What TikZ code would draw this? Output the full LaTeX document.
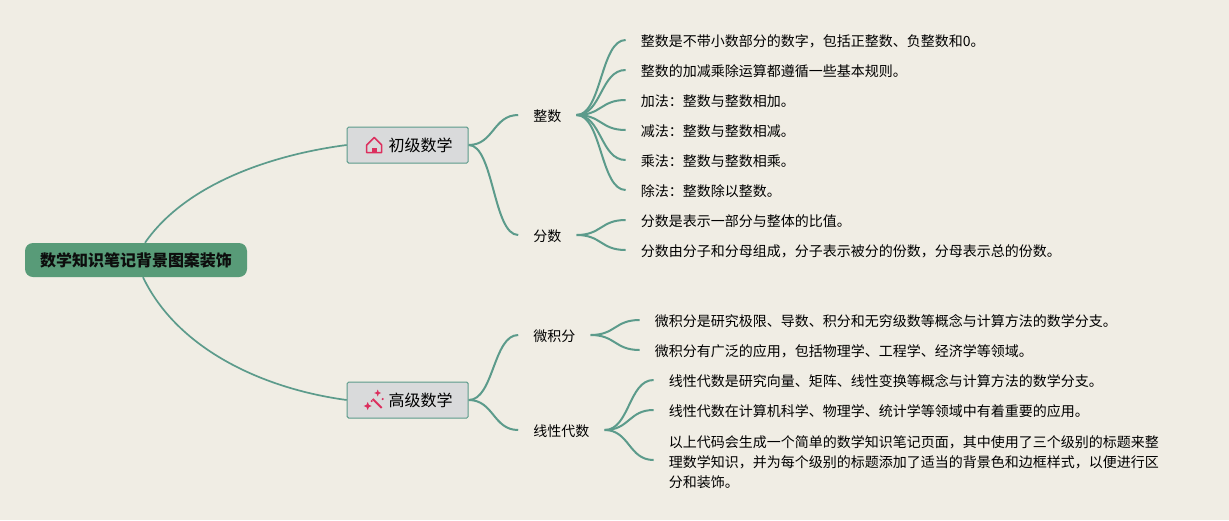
\documentclass[tikz,border=0pt]{standalone}
\usepackage{fontspec}
\setmainfont{Noto Sans CJK SC}
\usetikzlibrary{positioning}

\definecolor{paper}{HTML}{F0EDE4}
\definecolor{stem}{HTML}{5C9B8B}
\definecolor{rootgreen}{HTML}{589B78}
\definecolor{topicgray}{HTML}{D9DADB}
\definecolor{iconred}{HTML}{DC2F5E}

\begin{document}
\begin{tikzpicture}[
		x=1pt, y=1pt,
		% Define styles for the nodes
		rootbox/.style={
			rectangle, rounded corners=8pt, fill=rootgreen, text=black!95,
			minimum width=222pt, minimum height=34pt, inner sep=0pt,
			font=\fontsize{16}{20}\selectfont\bfseries
		},
		topicbox/.style={
			rectangle, rounded corners=1.5pt, draw=stem, fill=topicgray, line width=1pt,
			minimum width=121pt, minimum height=36pt, inner sep=0pt,
			font=\fontsize{16}{20}\selectfont
		},
		branchbox/.style={
			inner xsep=15pt, inner ysep=4pt, text height=13pt, text depth=1pt,
			font=\fontsize{14}{20}\selectfont
		},
		leafbase/.style={
			inner xsep=15pt, inner ysep=2pt, align=left,
			font=\fontsize{14}{20}\selectfont
		},
		leaf/.style={leafbase, text height=13pt, text depth=1pt},
		edge/.style={draw=stem, line width=2pt},
		rootedge/.style={draw=stem, line width=1.7pt},
		iconline/.style={draw=iconred, line width=1.5pt, line join=round},
		iconfill/.style={fill=iconred}
		]

		\useasboundingbox[fill=paper] (0,0) rectangle (1229,-520);

		% Define the central node
		\node[rootbox] (root) at (136,-260) {数学知识笔记背景图案装饰};

		% Define the two topics
		\node[topicbox, right=99.5pt of root, yshift=115pt] (chuji) {\hspace{26pt}初级数学};
		\node[topicbox, right=99.5pt of root, yshift=-140pt] (gaoji) {\hspace{26pt}高级数学};

		% Define the branches
		\node[branchbox, right=49.5pt of chuji, yshift=30pt] (zhengshu) {整数};
		\node[branchbox, right=49.5pt of chuji, yshift=-90pt] (fenshu) {分数};
		\node[branchbox, right=49.5pt of gaoji, yshift=65pt] (weijifen) {微积分};
		\node[branchbox, right=49.5pt of gaoji, yshift=-30pt] (xianxing) {线性代数};

		% Define the leaves
		\node[leaf, right=49pt of zhengshu, yshift=75pt] (zs1) {整数是不带小数部分的数字，包括正整数、负整数和0。};
		\node[leaf, right=49pt of zhengshu, yshift=45pt] (zs2) {整数的加减乘除运算都遵循一些基本规则。};
		\node[leaf, right=49pt of zhengshu, yshift=15pt] (zs3) {加法：整数与整数相加。};
		\node[leaf, right=49pt of zhengshu, yshift=-15pt] (zs4) {减法：整数与整数相减。};
		\node[leaf, right=49pt of zhengshu, yshift=-45pt] (zs5) {乘法：整数与整数相乘。};
		\node[leaf, right=49pt of zhengshu, yshift=-75pt] (zs6) {除法：整数除以整数。};

		\node[leaf, right=49pt of fenshu, yshift=15pt] (fs1) {分数是表示一部分与整体的比值。};
		\node[leaf, right=49pt of fenshu, yshift=-15pt] (fs2) {分数由分子和分母组成，分子表示被分的份数，分母表示总的份数。};

		\node[leaf, right=49pt of weijifen, yshift=15pt] (wj1) {微积分是研究极限、导数、积分和无穷级数等概念与计算方法的数学分支。};
		\node[leaf, right=49pt of weijifen, yshift=-15pt] (wj2) {微积分有广泛的应用，包括物理学、工程学、经济学等领域。};

		\node[leaf, right=49pt of xianxing, yshift=50pt] (xx1) {线性代数是研究向量、矩阵、线性变换等概念与计算方法的数学分支。};
		\node[leaf, right=49pt of xianxing, yshift=20pt] (xx2) {线性代数在计算机科学、物理学、统计学等领域中有着重要的应用。};
		\node[leafbase, right=49pt of xianxing, yshift=-30pt] (xx3) {\rule{0pt}{16pt}以上代码会生成一个简单的数学知识笔记页面，其中使用了三个级别的标题来整\\理数学知识，并为每个级别的标题添加了适当的背景色和边框样式，以便进行区\\分和装饰。};

		% Draw the connections from the root to the topics
		\draw[rootedge] ([xshift=9pt]root.north) .. controls +(40,58) and +(-77,-10) .. (chuji.west);
		\draw[rootedge] ([xshift=7pt]root.south) .. controls +(35,-73) and +(-82,11) .. (gaoji.west);

		% Draw the connections from the topics to the branches
		\draw[edge] (chuji.east) .. controls +(25,0) and +(-25,0) .. (zhengshu.west);
		\draw[edge] (chuji.east) .. controls +(25,0) and +(-25,0) .. (fenshu.west);
		\draw[edge] (gaoji.east) .. controls +(25,0) and +(-25,0) .. (weijifen.west);
		\draw[edge] (gaoji.east) .. controls +(25,0) and +(-25,0) .. (xianxing.west);

		% Draw the connections from the branches to the leaves
		\foreach \leafname in {zs1,zs2,zs3,zs4,zs5,zs6}
			\draw[edge] (zhengshu.east) .. controls +(25,0) and +(-25,0) .. (\leafname.west);
		\foreach \leafname in {fs1,fs2}
			\draw[edge] (fenshu.east) .. controls +(25,0) and +(-25,0) .. (\leafname.west);
		\foreach \leafname in {wj1,wj2}
			\draw[edge] (weijifen.east) .. controls +(25,0) and +(-25,0) .. (\leafname.west);
		\foreach \leafname in {xx1,xx2,xx3}
			\draw[edge] (xianxing.east) .. controls +(25,0) and +(-25,0) .. (\leafname.west);

		% House icon
		\begin{scope}[shift={(chuji.west)}]
			\draw[iconline] (20,0) -- (27.5,7.5) -- (35,0) -- (35,-7.5) -- (20,-7.5) -- cycle;
			\fill[iconfill] (25.2,-7.5) rectangle (29.8,-2.5);
		\end{scope}

		% Wand icon
		\begin{scope}[shift={(gaoji.west)}]
			\draw[iconline, line width=2pt] (26,1) -- (35,-8);
			\fill[iconfill] (21,-10) -- (22.2,-7.2) -- (25,-6) -- (22.2,-4.8) -- (21,-2) -- (19.8,-4.8) -- (17,-6) -- (19.8,-7.2) -- cycle;
			\fill[iconfill] (31,10.5) -- (32,8) -- (34.5,7) -- (32,6) -- (31,3.5) -- (30,6) -- (27.5,7) -- (30,8) -- cycle;
			\fill[iconfill] (36,1) circle (1.2pt);
			\fill[iconfill] (25,-1) circle (1.2pt);
		\end{scope}

	\end{tikzpicture}
\end{document}
